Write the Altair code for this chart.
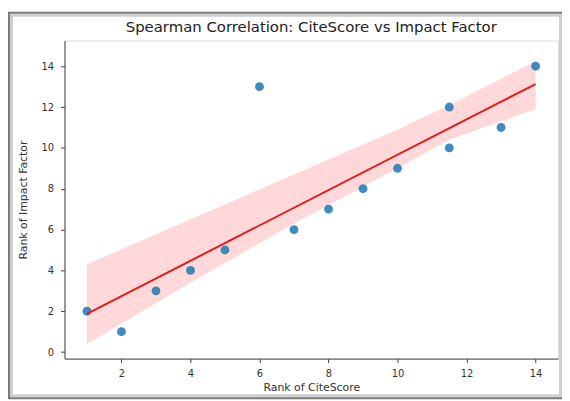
import altair as alt
import pandas as pd

# Data (ranks)
cite_rank = [1, 2, 3, 4, 5, 6, 7, 8, 9, 10, 11.5, 11.5, 13, 14]
if_rank = [2, 1, 3, 4, 5, 13, 6, 7, 8, 9, 12, 10, 11, 14]

# Confidence band edges
band_x = [1, 4, 7, 10, 11.5, 14]
band_lo = [0.4, 3.4, 6.3, 9.0, 10.4, 11.9]
band_hi = [4.3, 6.5, 8.7, 10.9, 12.1, 14.25]

x_ticks = [2, 4, 6, 8, 10, 12, 14]
y_ticks = [0, 2, 4, 6, 8, 10, 12, 14]

title_text = ["Spearman Correlation: CiteScore vs Impact Factor"]

pts = pd.DataFrame({"x": cite_rank, "y": if_rank})
band = pd.DataFrame({"x": band_x, "lo": band_lo, "hi": band_hi})

FONT = "DejaVu Sans"
xscale = alt.Scale(domain=[0.35, 14.65], nice=False, zero=False)
yscale = alt.Scale(domain=[-0.32, 15.26], nice=False, zero=False)

xaxis = alt.Axis(values=x_ticks, title="Rank of CiteScore", grid=False,
                 labelFont=FONT, titleFont=FONT, labelFontSize=10, titleFontSize=11,
                 titleFontWeight="normal", labelColor="#333", titleColor="#333",
                 domainColor="#444", tickColor="#444", tickSize=4, labelPadding=6,
                 titlePadding=3)
yaxis = alt.Axis(values=y_ticks, title="Rank of Impact Factor", grid=False,
                 labelFont=FONT, titleFont=FONT, labelFontSize=10, titleFontSize=11,
                 titleFontWeight="normal", labelColor="#333", titleColor="#333",
                 domainColor="#444", tickColor="#444", tickSize=4, labelPadding=7,
                 titlePadding=13)

area = alt.Chart(band).mark_area(color="red", opacity=0.15).encode(
    x=alt.X("x:Q", scale=xscale, axis=xaxis),
    y=alt.Y("lo:Q", scale=yscale, axis=yaxis),
    y2="hi:Q",
)

points = alt.Chart(pts).mark_circle(size=80, color="#1f77b4", opacity=0.85).encode(
    x=alt.X("x:Q", scale=xscale),
    y=alt.Y("y:Q", scale=yscale),
)

line = alt.Chart(pts).transform_regression("x", "y").mark_line(
    color="#e31a1c", strokeWidth=2
).encode(
    x=alt.X("x:Q", scale=xscale),
    y=alt.Y("y:Q", scale=yscale),
)

title = alt.Chart(pd.DataFrame({"t": title_text})).mark_text(
    font=FONT, fontSize=15, color="#222", align="center", baseline="alphabetic", clip=False
).encode(text="t:N", x=alt.value(249), y=alt.value(-9))

frame_df = pd.DataFrame({"a": [0]})
frame_outer = alt.Chart(frame_df).mark_rect(
    fill=None, stroke="#7a7a7a", strokeWidth=2, clip=False
).encode(x=alt.value(-56), x2=alt.value(503), y=alt.value(-28), y2=alt.value(361))
frame_inner = alt.Chart(frame_df).mark_rect(
    fill=None, stroke="#cfcfcf", strokeWidth=3, clip=False
).encode(x=alt.value(-53.5), x2=alt.value(500.5), y=alt.value(-25.5), y2=alt.value(358.5))

chart = alt.layer(area, points, line, title, frame_inner, frame_outer).properties(
    width=498,
    height=321,
    padding={"left": 57, "top": 31, "right": 4, "bottom": 41},
    autosize=alt.AutoSizeParams(type="none"),
).configure_view(stroke="#444", strokeWidth=1).configure(background="white")

chart.save("out.html", embed_options={"renderer": "svg", "actions": False})
